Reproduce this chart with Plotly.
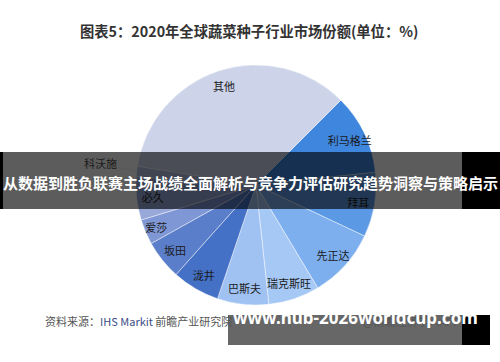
import math
import plotly.graph_objects as go

# ---- data (clockwise, starting at the 其他/利马格兰 boundary) ----
labels = ['利马格兰', '拜耳', '先正达', '瑞克斯旺', '巴斯夫', '泷井', '坂田', '爱莎', '必久', '科沃施', '其他']
shares = [10.8, 8.7, 9.4, 6.9, 6.9, 6.4, 5.3, 3.4, 5.8, 1.4, 35.0]
colors = ['#3F86DF', '#5B99E5', '#7DAEEE', '#A6C8F5', '#9FC2F3', '#4470C5',
          '#5A7ECA', '#7F97D5', '#97A8D9', '#B3BEE2', '#CDD4EA']
outside_label = '科沃施'

title_text = '图表5：2020年全球蔬菜种子行业市场份额(单位：%)'
source_text = '资料来源：<span style="color:#3B4C86">IHS Markit</span> 前瞻产业研究院'
brand_text = '@前瞻经济学人APP'
banner_text = '从数据到胜负联赛主场战绩全面解析与竞争力评估研究趋势洞察与策略启示'
url_text = 'www.hub-2026worldcup.com'

W, H = 500, 362
CX, CY, R = 256, 185, 120
START = 45
FONT = 'Noto Sans CJK SC, Noto Sans, sans-serif'

def px(x):
    return x / W

def py(y):
    return 1 - y / H

domain = dict(x=[px(CX - R), px(CX + R)], y=[py(CY + R), py(CY - R)])

fig = go.Figure()
fig.add_trace(go.Pie(
    labels=labels, values=shares, sort=False, direction='clockwise', rotation=START,
    marker=dict(colors=colors, line=dict(color='rgba(255,255,255,0.55)', width=0.8)),
    textinfo='none', hoverinfo='skip', showlegend=False, domain=domain,
))
ring_text = [l if l != outside_label else '' for l in labels]
fig.add_trace(go.Pie(
    labels=labels, values=shares, sort=False, direction='clockwise', rotation=START,
    hole=0.73, text=ring_text, textinfo='text', textposition='inside',
    insidetextorientation='horizontal',
    textfont=dict(size=11, color='#1a1a1a', family=FONT),
    marker=dict(colors=['rgba(0,0,0,0)'] * len(labels), line=dict(width=0)),
    hoverinfo='skip', showlegend=False, domain=domain,
))

# leader line for the small slice, angle derived from the data
total = sum(shares)
i = labels.index(outside_label)
mid = START + (sum(shares[:i]) + shares[i] / 2) / total * 360
ex = CX + R * math.sin(math.radians(mid))
ey = CY - R * math.cos(math.radians(mid))

annotations = [
    dict(x=px(ex), y=py(ey), xref='paper', yref='paper', text=outside_label,
         showarrow=True, arrowhead=0, arrowwidth=0.8, arrowcolor='#555', standoff=0,
         ax=-36, ay=-8, font=dict(size=11, color='#1a1a1a', family=FONT)),
    dict(x=px(249), y=py(18), xref='paper', yref='paper', text='<b>' + title_text + '</b>',
         xanchor='center', showarrow=False, font=dict(size=14.3, color='#333333', family=FONT)),
    dict(x=px(43), y=py(331), xref='paper', yref='paper', text=source_text, xanchor='left',
         showarrow=False, font=dict(size=11, color='#555555', family=FONT)),
    dict(x=px(462), y=py(331), xref='paper', yref='paper', text=brand_text, xanchor='right',
         showarrow=False, font=dict(size=11, color='#555555', family=FONT)),
]

shapes = [
    dict(type='rect', xref='paper', yref='paper', x0=0, x1=1, y0=py(209), y1=py(152),
         fillcolor='rgba(0,0,0,0.64)', line=dict(width=0), layer='above'),
    dict(type='rect', xref='paper', yref='paper', x0=px(462), x1=1, y0=py(209), y1=py(152),
         fillcolor='#000000', line=dict(width=0), layer='above'),
    dict(type='rect', xref='paper', yref='paper', x0=0, x1=px(3), y0=py(209), y1=py(152),
         fillcolor='#000000', line=dict(width=0), layer='above'),
    dict(type='rect', xref='paper', yref='paper', x0=px(228), x1=px(462), y0=py(345), y1=py(315),
         fillcolor='rgba(95,95,95,0.95)', line=dict(width=0), layer='above'),
    dict(type='rect', xref='paper', yref='paper', x0=px(462), x1=px(490), y0=py(345), y1=py(315),
         fillcolor='#000000', line=dict(width=0), layer='above'),
]

annotations += [
    dict(x=0.5, y=py(182), xref='paper', yref='paper', text='<b>' + banner_text + '</b>',
         xanchor='center', showarrow=False, font=dict(size=15, color='#ffffff', family=FONT)),
    dict(x=px(355), y=py(331), xref='paper', yref='paper', text='<b>' + url_text + '</b>',
         xanchor='center', showarrow=False,
         font=dict(size=17, color='#ffffff', family='Noto Sans, sans-serif')),
]

fig.update_layout(
    width=W, height=H, margin=dict(l=0, r=0, t=0, b=0),
    paper_bgcolor='white', plot_bgcolor='white',
    uniformtext=dict(minsize=11, mode='show'),
    annotations=annotations, shapes=shapes,
)
fig.write_html('out.html')
